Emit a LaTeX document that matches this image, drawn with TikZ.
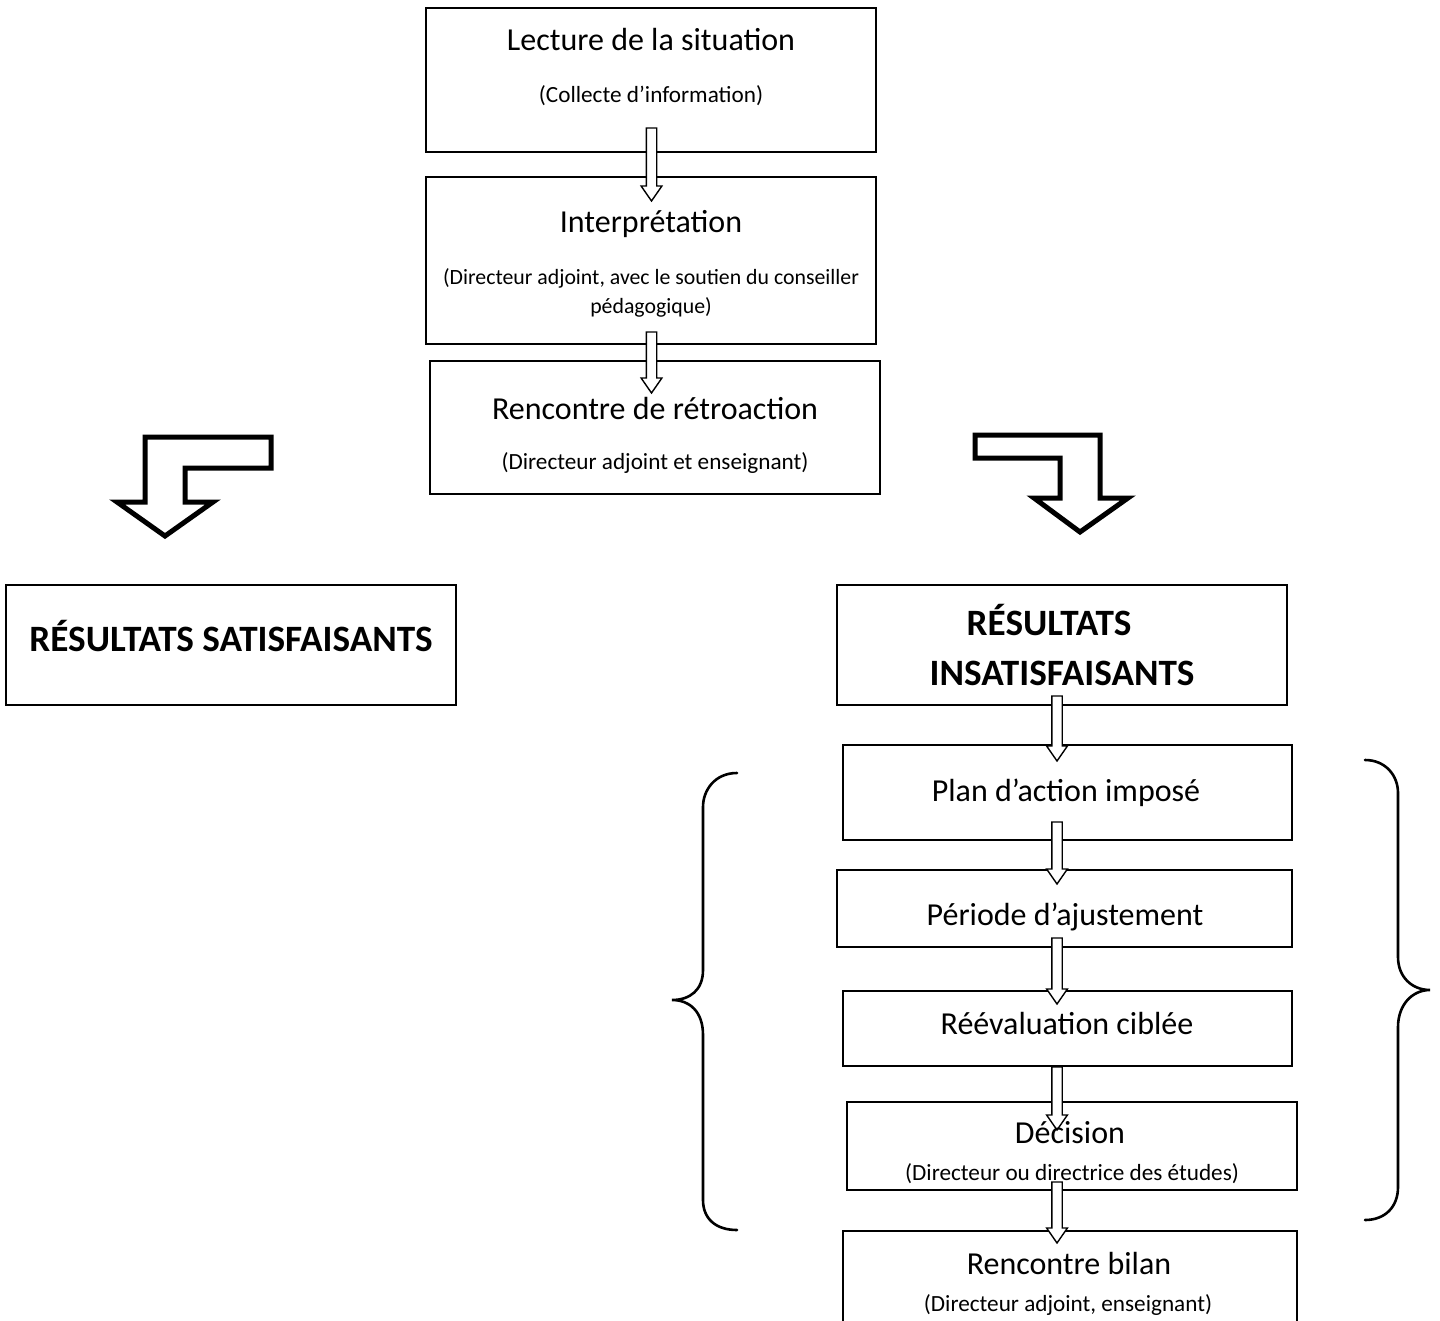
\documentclass[tikz,border=0pt]{standalone}
\usepackage{fontspec}
\setmainfont{Carlito}
\usetikzlibrary{fit,calc}
\newcommand\bigtxt{\fontsize{16}{19}\selectfont}
\newcommand\smalltxt{\fontsize{11.6}{14}\selectfont}
\newcommand\boldtxt{\fontsize{18.6}{22}\selectfont\bfseries}
\newcommand\hollowdown[2]{%
  \draw[hollow] let \p1=(#1), \p2=(#2) in
    (\x1-2.6pt,\y1) -- (\x1+2.6pt,\y1) -- (\x1+2.6pt,\y2+7.5pt) -- (\x1+5.2pt,\y2+7.5pt)
    -- (\x1,\y2) -- (\x1-5.2pt,\y2+7.5pt) -- (\x1-2.6pt,\y2+7.5pt) -- cycle;}
\tikzset{
  box/.style={draw, line width=1pt, inner sep=0pt},
  txt/.style={inner sep=0pt, anchor=center},
  hollow/.style={draw, fill=white, line width=0.7pt, line join=miter},
  bent/.style={draw, fill=white, line width=2.5pt, line join=miter},
  brace/.style={draw, line width=1.3pt, line cap=round}
}
\begin{document}
\begin{tikzpicture}[x=0.5pt, y=-0.5pt]
\useasboundingbox (0,0) rectangle (1440,1321);
\clip (0,0) rectangle (1440,1321);
% boxes
\node[box, fit={(426,8) (876,152)}] (b1) {};
\node[box, fit={(426,177) (876,344)}] (b2) {};
\node[box, fit={(430,361) (880,494)}] (b3) {};
\node[box, fit={(6,585) (456,705)}] (sat) {};
\node[box, fit={(837,585) (1287,705)}] (ins) {};
\node[box, fit={(843,745) (1292,840)}] (plan) {};
\node[box, fit={(837,870) (1292,947)}] (per) {};
\node[box, fit={(843,991) (1292,1066)}] (ree) {};
\node[box, fit={(847,1102) (1297,1190)}] (dec) {};
\node[box, fit={(843,1231) (1297,1350)}] (bil) {};
% connector end points
\coordinate (a1s) at (651.5,128); \coordinate (a1e) at (651.5,201);
\coordinate (a2s) at (651.5,332); \coordinate (a2e) at (651.5,393);
\coordinate (a3s) at (1057,696);  \coordinate (a3e) at (1057,761);
\coordinate (a4s) at (1057,822);  \coordinate (a4e) at (1057,884);
\coordinate (a5s) at (1057,938);  \coordinate (a5e) at (1057,1004);
\coordinate (a6s) at (1057,1067); \coordinate (a6e) at (1057,1130);
\coordinate (a7s) at (1057,1182); \coordinate (a7e) at (1057,1243);
\hollowdown{a1s}{a1e}
\hollowdown{a2s}{a2e}
\hollowdown{a3s}{a3e}
\hollowdown{a4s}{a4e}
\hollowdown{a5s}{a5e}
\hollowdown{a6s}{a6e}
\hollowdown{a7s}{a7e}
% bent arrows
\draw[bent] (145,437) -- (271,437) -- (271,468) -- (185,468) -- (185,502) -- (213,502)
  -- (165,536) -- (117,502) -- (145,502) -- cycle;
\draw[bent] (975,435) -- (1100,435) -- (1100,498) -- (1128,498) -- (1080,532)
  -- (1034,498) -- (1060,498) -- (1060,458) -- (975,458) -- cycle;
% braces
\draw[brace] (737,773) .. controls (715,773) and (703,790) .. (703,807) -- (703,970)
  .. controls (703,990) and (690,1000) .. (672,1000)
  .. controls (690,1000) and (703,1012) .. (703,1035) -- (703,1200)
  .. controls (703,1218) and (715,1230) .. (737,1230);
\draw[brace] (1365,760) .. controls (1385,760) and (1398,775) .. (1398,793) -- (1398,957)
  .. controls (1398,977) and (1412,990) .. (1430,990)
  .. controls (1412,990) and (1398,1005) .. (1398,1027) -- (1398,1187)
  .. controls (1398,1207) and (1385,1220) .. (1365,1220);
% texts
\node[txt] (t1a) at (651,40) {\bigtxt Lecture de la situation};
\node[txt] (t1b) at (651,96) {\smalltxt (Collecte d’information)};
\node[txt] (t2a) at (651,224) {\bigtxt Interprétation};
\node[txt] (t2b) at (651,278) {\fontsize{10.9}{13}\selectfont (Directeur adjoint, avec le soutien du conseiller};
\node[txt] (t2c) at (651,307) {\fontsize{10.9}{13}\selectfont pédagogique)};
\node[txt] (t3a) at (655,409) {\bigtxt Rencontre de rétroaction};
\node[txt] (t3b) at (655,463) {\smalltxt (Directeur adjoint et enseignant)};
\node[txt] (tsat) at (231,636) {\boldtxt RÉSULTATS SATISFAISANTS};
\node[txt] (tinsa) at (1049,620) {\boldtxt RÉSULTATS};
\node[txt] (tinsb) at (1062,673) {\boldtxt INSATISFAISANTS};
\node[txt] (tplan) at (1066,793) {\bigtxt Plan d’action imposé};
\node[txt] (tper) at (1065,917) {\bigtxt Période d’ajustement};
\node[txt] (tree) at (1067,1023) {\bigtxt Réévaluation ciblée};
\node[txt] (tdeca) at (1070,1133) {\bigtxt Décision};
\node[txt] (tdecb) at (1072,1174) {\smalltxt (Directeur ou directrice des études)};
\node[txt] (tbila) at (1069,1263) {\bigtxt Rencontre bilan};
\node[txt] (tbilb) at (1068,1305) {\smalltxt (Directeur adjoint, enseignant)};
\end{tikzpicture}
\end{document}
